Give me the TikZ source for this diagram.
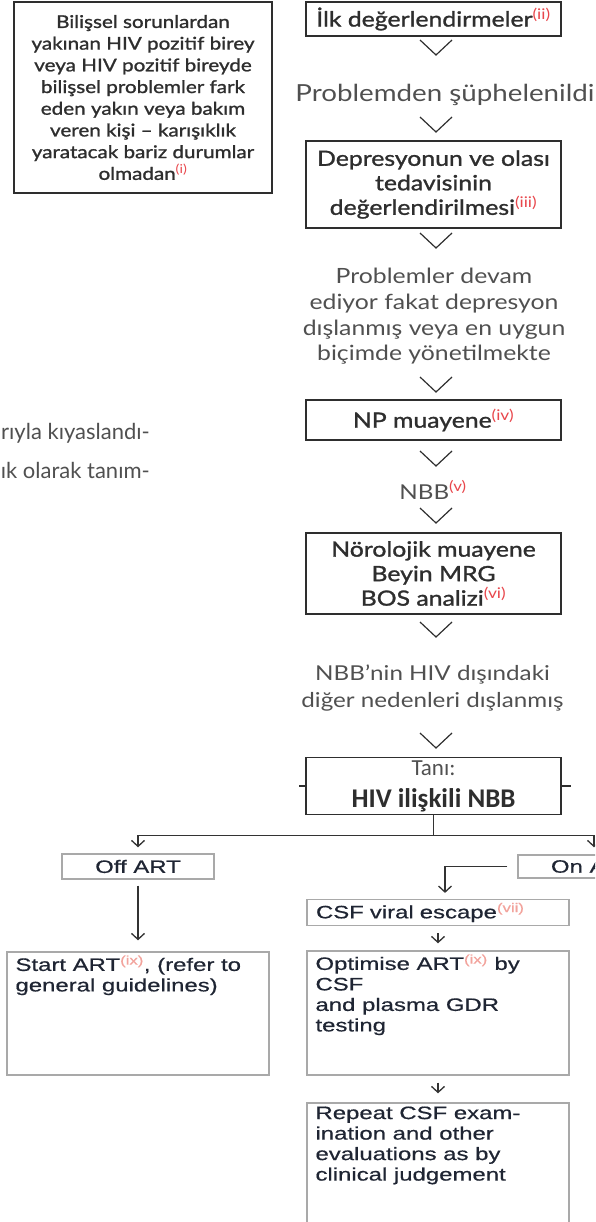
\documentclass[tikz,border=0pt]{standalone}
\usepackage{fontspec}
\usetikzlibrary{arrows.meta,positioning}
\setmainfont{Lato}
\newfontfamily\flowfont[FakeStretch=1.18]{Lato}
\newfontfamily\flowmedfont[FakeStretch=1.18,FakeBold=1.3]{Lato}
\newfontfamily\guidefont[FakeStretch=1.33,FakeBold=0.6]{Liberation Sans}
\newfontfamily\diagfont{Carlito}

\definecolor{ink}{HTML}{2E2E2E}
\definecolor{softink}{HTML}{505050}
\definecolor{noteRed}{HTML}{E8474C}
\definecolor{notePale}{HTML}{F2A39C}
\definecolor{lowink}{HTML}{1F2533}
\definecolor{lowframe}{HTML}{A9A9A9}
\definecolor{linkgray}{HTML}{333333}

\newcommand{\refmark}[1]{\textsuperscript{\flowfont\textcolor{noteRed}{(#1)}}}
\newcommand{\guidemark}[1]{\textsuperscript{\textcolor{notePale}{(#1)}}}

\tikzset{
  flowbox/.style={draw=ink, line width=1.3pt, minimum width=255pt, inner sep=3pt,
    align=center, text=ink, font=\flowmedfont\fontsize{21}{24.5}\selectfont},
  flownote/.style={align=center, text=softink, inner sep=0pt,
    font=\flowfont\fontsize{20.5}{26}\selectfont},
  chevron/.style={draw=ink, line width=1.2pt},
  guidebox/.style={draw=lowframe, line width=1.4pt, text=lowink,
    font=\guidefont\fontsize{18}{20}\selectfont},
  guidetext/.style={text=lowink, align=left, anchor=north west, inner xsep=9pt,
    inner ysep=4pt, font=\guidefont\fontsize{18}{20.5}\selectfont},
  guidelink/.style={draw=linkgray, line width=1.3pt,
    -{Straight Barb[length=6pt,width=13pt]}}
}

\begin{document}
\begin{tikzpicture}[x=1pt, y=-1pt]
  \useasboundingbox (0,0) rectangle (595,1222);
  \clip (0,0) rectangle (595,1222);

  \node[flowbox, minimum width=258pt, minimum height=191pt,
    font=\flowmedfont\fontsize{17.5}{21.7}\selectfont] (concern) at (143,97.5)
    {Bilişsel sorunlardan\\ yakınan HIV pozitif birey\\ veya HIV pozitif bireyde\\
     bilişsel problemler fark\\ eden yakın veya bakım\\ veren kişi – karışıklık\\
     yaratacak bariz durumlar\\ olmadan\refmark{i}};

  \node[flowbox, minimum height=34pt] (first) at (433.5,19) {İlk değerlendirmeler\refmark{ii}};
  \node[flownote, font=\flowfont\fontsize{23.5}{28}\selectfont] (suspect) at (445,95)
    {Problemden şüphelenildi};
  \node[flowbox, minimum height=87pt] (depress) at (433.5,184.5)
    {Depresyonun ve olası\\ tedavisinin\\ değerlendirilmesi\refmark{iii}};
  \node[flownote, font=\flowfont\fontsize{21}{25.7}\selectfont] (persist) at (434,316.5)
    {Problemler devam\\ ediyor fakat depresyon\\ dışlanmış veya en uygun\\ biçimde yönetilmekte};
  \node[flowbox, minimum height=40pt] (npexam) at (433.5,420) {NP muayene\refmark{iv}};
  \node[flownote] (nbb) at (433,490) {NBB\refmark{v}};
  \node[flowbox, minimum height=81pt] (neuro) at (433.5,573.5)
    {Nörolojik muayene\\ Beyin MRG\\ BOS analizi\refmark{vi}};
  \node[flownote, font=\flowfont\fontsize{20.5}{27}\selectfont] (excluded) at (432.5,688.5)
    {NBB’nin HIV dışındaki\\ diğer nedenleri dışlanmış};
  \node[flowbox, minimum height=55pt, font=\diagfont\fontsize{23}{32}\selectfont] (diagnosis)
    at (433.5,786) {\textcolor{softink}{Tanı:}\\ {\bfseries\fontsize{27}{32}\selectfont HIV ilişkili NBB}};

  \node[flownote, anchor=east, font=\fontsize{22}{26}\selectfont] (bleedtop) at (150,433)
    {rıyla kıyaslandı-};
  \node[flownote, anchor=east, font=\fontsize{22}{26}\selectfont] (bleedbottom) at (150,470)
    {ık olarak tanım-};

  \foreach \y in {40,117,233,377,451,508,622,733}
    \draw[chevron] (420,\y) -- (436,\y+15) -- (452,\y);

  \draw[chevron] (diagnosis.west) -- ++(-6,0);
  \draw[chevron] (diagnosis.east) -- ++(9,0);

  \node[guidebox, minimum width=152pt, minimum height=25pt] (offart) at (138,866.5) {Off ART};
  \node[guidebox, minimum width=152pt, minimum height=23pt] (onart) at (594,866.5) {On ART};
  \node[guidebox, minimum width=262pt, minimum height=23pt, text width=244pt, align=left]
    (csf) at (438,912.5) {CSF viral escape\guidemark{vii}};
  \node[guidebox, minimum width=262pt, minimum height=123pt,
    label={[guidetext]north west:{Start ART\guidemark{ix}, (refer to\\ general guidelines)}}]
    (startart) at (138,1013.5) {};
  \node[guidebox, minimum width=262pt, minimum height=124pt,
    label={[guidetext]north west:{Optimise ART\guidemark{ix} by\\ CSF\\ and plasma GDR\\ testing}}]
    (optimise) at (438,1013) {};
  \node[guidebox, minimum width=262pt, minimum height=134pt,
    label={[guidetext]north west:{Repeat CSF exam-\\ ination and other\\ evaluations as by\\ clinical judgement}}]
    (repeat) at (438,1170) {};

  \coordinate[below=20pt of diagnosis.south] (split);
  \draw[draw=linkgray, line width=1.2pt] (diagnosis.south) -- (split);
  \draw[guidelink, shorten >=6pt] (split) -| (offart.north);
  \draw[guidelink, shorten >=7pt] (split) -| (onart.north);
  \draw[guidelink, shorten <=6pt, shorten >=11pt] (offart.south) -- (startart.north);
  \draw[guidelink, shorten >=6pt] ([xshift=-10pt]onart.west) -| ([xshift=7pt]csf.north);
  \draw[guidelink, shorten <=7pt, shorten >=7pt] (csf.south) -- (optimise.north);
  \draw[guidelink, shorten <=7pt, shorten >=9pt] (optimise.south) -- (repeat.north);
\end{tikzpicture}
\end{document}
